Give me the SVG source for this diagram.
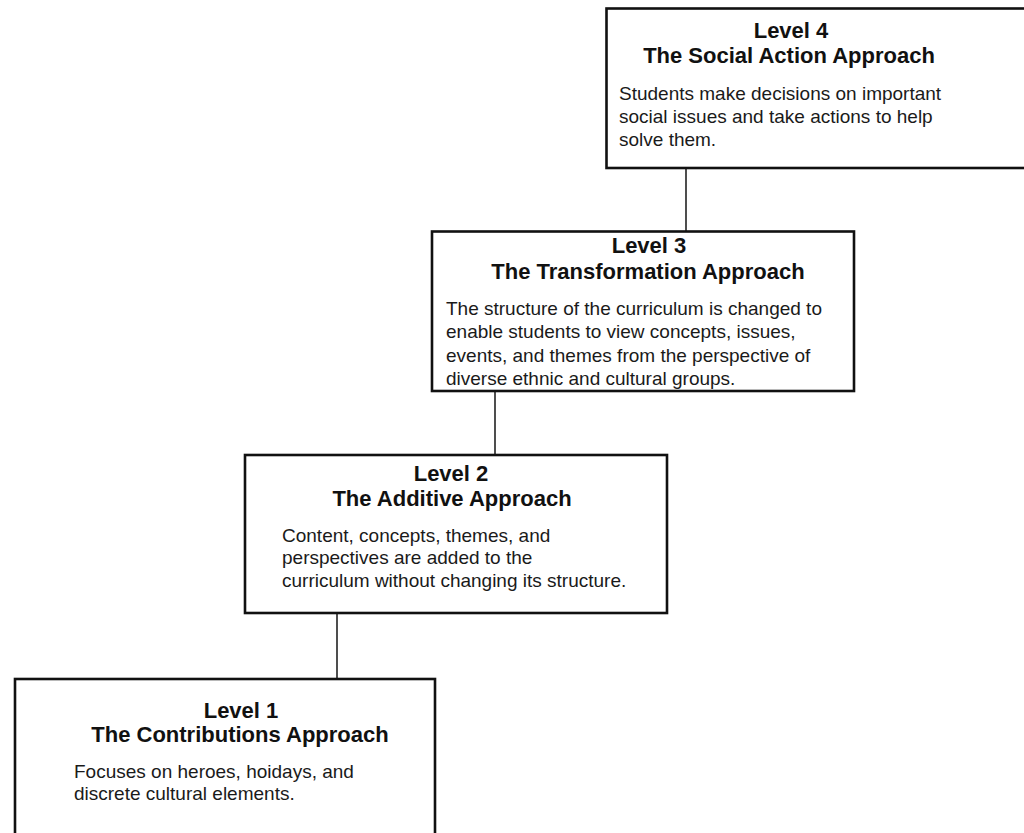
<svg xmlns="http://www.w3.org/2000/svg" width="1024" height="833" viewBox="0 0 1024 833">
  <style>
    .box { fill: #ffffff; stroke: #111111; stroke-width: 2.6; }
    .link { stroke: #222222; stroke-width: 1.6; fill: none; }
    .head { font-family: "Liberation Sans", Arial, sans-serif; font-weight: bold; font-size: 22px; fill: #111111; text-anchor: middle; }
    .body { font-family: "Liberation Sans", Arial, sans-serif; font-size: 19px; fill: #1a1a1a; }
  </style>
  <rect width="1024" height="833" fill="#ffffff"/>

  <!-- vertical links between levels -->
  <g id="connectors">
    <line class="link" x1="686" y1="168" x2="686" y2="232"/>
    <line class="link" x1="495" y1="391" x2="495" y2="455"/>
    <line class="link" x1="337" y1="613" x2="337" y2="679"/>
  </g>

  <!-- Level 4 -->
  <g id="level4">
    <rect class="box" x="606.5" y="8.5" width="430" height="159.5"/>
    <text class="head" x="791" y="38">Level 4</text>
    <text class="head" x="789" y="63">The Social Action Approach</text>
    <text class="body" x="619" y="100">Students make decisions on important</text>
    <text class="body" x="619" y="123">social issues and take actions to help</text>
    <text class="body" x="619" y="146">solve them.</text>
  </g>

  <!-- Level 3 -->
  <g id="level3">
    <rect class="box" x="432" y="231.5" width="422" height="159.5"/>
    <text class="head" x="649" y="253">Level 3</text>
    <text class="head" x="648" y="279">The Transformation Approach</text>
    <text class="body" x="446" y="315">The structure of the curriculum is changed to</text>
    <text class="body" x="446" y="338">enable students to view concepts, issues,</text>
    <text class="body" x="446" y="362">events, and themes from the perspective of</text>
    <text class="body" x="446" y="385">diverse ethnic and cultural groups.</text>
  </g>

  <!-- Level 2 -->
  <g id="level2">
    <rect class="box" x="245" y="455" width="422" height="158"/>
    <text class="head" x="451" y="481">Level 2</text>
    <text class="head" x="452" y="506">The Additive Approach</text>
    <text class="body" x="282" y="542">Content, concepts, themes, and</text>
    <text class="body" x="282" y="564">perspectives are added to the</text>
    <text class="body" x="282" y="587">curriculum without changing its structure.</text>
  </g>

  <!-- Level 1 -->
  <g id="level1">
    <rect class="box" x="15" y="679" width="420" height="180"/>
    <text class="head" x="241" y="718">Level 1</text>
    <text class="head" x="240" y="742">The Contributions Approach</text>
    <text class="body" x="74" y="778">Focuses on heroes, hoidays, and</text>
    <text class="body" x="74" y="800">discrete cultural elements.</text>
  </g>
</svg>
